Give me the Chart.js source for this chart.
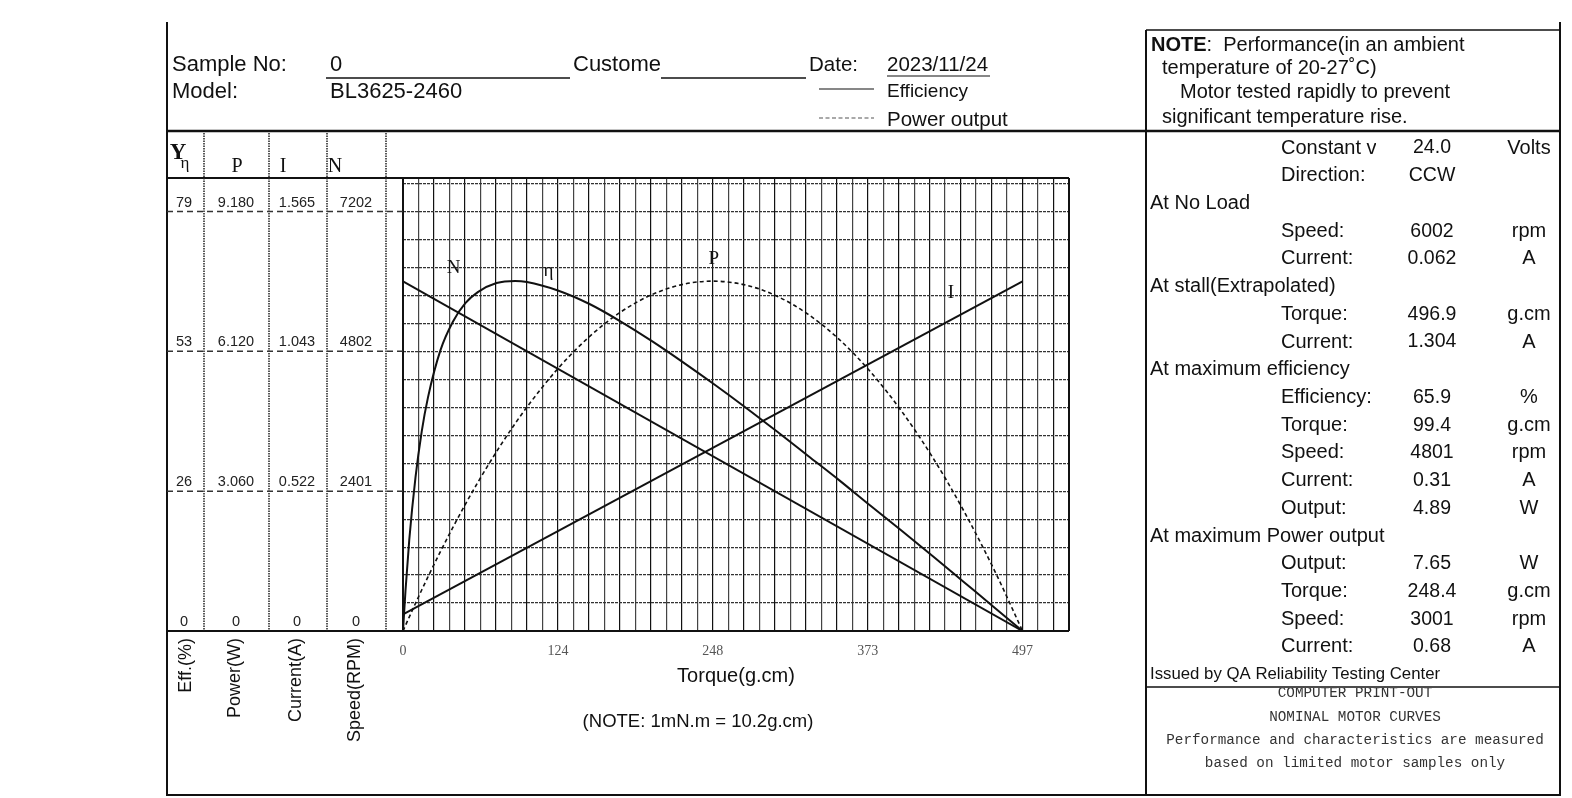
<!DOCTYPE html>
<html>
<head>
<meta charset="utf-8">
<script src="https://cdn.jsdelivr.net/npm/chart.js@4.4.1/dist/chart.umd.min.js"></script>
<style>
html, body { margin: 0; padding: 0; background: #fff; }
canvas { display: block; }
</style>
</head>
<body>
<canvas id="chartMotor" width="1572" height="798"></canvas>
<script>
// torque points (g.cm)
const torque = [0, 2, 5, 10, 15, 20, 30, 40, 50, 60, 75, 90, 99.4, 124.2, 150, 175, 200, 225, 248.4, 275, 300, 325, 350, 375, 400, 425, 450, 475, 496.9]
const efficiency = [0, 7.6, 17.1, 28.9, 37.6, 44.0, 52.9, 58.3, 61.8, 63.9, 65.6, 66.0, 65.8, 64.2, 61.6, 58.3, 54.6, 50.6, 46.7, 42.1, 37.6, 33.0, 28.4, 23.6, 18.9, 14.1, 9.2, 4.3, 0]
const power = [0, 0.123, 0.305, 0.604, 0.897, 1.183, 1.737, 2.267, 2.772, 3.252, 3.925, 4.543, 4.901, 5.742, 6.455, 6.988, 7.366, 7.589, 7.657, 7.570, 7.327, 6.930, 6.378, 5.670, 4.808, 3.791, 2.618, 1.290, 0]
// speed and current are straight lines, no load -> stall
const lineTorque = [0, 496.9]
const speed = [6002, 0]
const current = [0.062, 1.304]

// left columns: top dashed line value of each scale and the printed labels
const fullScale = [79.08, 9.18, 1.5648, 7202.4]
const effTicks = ['0', '26', '53', '79']
const powerTicks = ['0', '3.060', '6.120', '9.180']
const currentTicks = ['0', '0.522', '1.043', '1.565']
const speedTicks = ['0', '2401', '4802', '7202']
const torqueTicks = ['0', '124', '248', '373', '497']
const stallTorque = 496.9

const specRows = [
    ['', 'Constant voltage:', '24.0', 'Volts'],
    ['', 'Direction:', 'CCW', ''],
    ['At No Load', '', '', ''],
    ['', 'Speed:', '6002', 'rpm'],
    ['', 'Current:', '0.062', 'A'],
    ['At stall(Extrapolated)', '', '', ''],
    ['', 'Torque:', '496.9', 'g.cm'],
    ['', 'Current:', '1.304', 'A'],
    ['At maximum efficiency', '', '', ''],
    ['', 'Efficiency:', '65.9', '%'],
    ['', 'Torque:', '99.4', 'g.cm'],
    ['', 'Speed:', '4801', 'rpm'],
    ['', 'Current:', '0.31', 'A'],
    ['', 'Output:', '4.89', 'W'],
    ['At maximum Power output', '', '', ''],
    ['', 'Output:', '7.65', 'W'],
    ['', 'Torque:', '248.4', 'g.cm'],
    ['', 'Speed:', '3001', 'rpm'],
    ['', 'Current:', '0.68', 'A']
]

const SANS = '"Liberation Sans", Arial, sans-serif'
const SERIF = '"Liberation Serif", "Times New Roman", serif'
const MONO = '"Liberation Mono", monospace'
const xStep = stallTorque / 40
const yStep = fullScale[0] / 15

function seg(ctx, x1, y1, x2, y2) {
    ctx.beginPath()
    ctx.moveTo(x1, y1)
    ctx.lineTo(x2, y2)
    ctx.stroke()
}
function txt(ctx, s, x, y, font, align, color) {
    ctx.font = font
    ctx.textAlign = align || 'left'
    ctx.textBaseline = 'middle'
    ctx.fillStyle = color || '#111'
    ctx.fillText(s, x, y)
}

const sheet = {
    id: 'sheet',
    beforeDraw(chart) {
        const ctx = chart.ctx
        ctx.save()
        ctx.fillStyle = '#fff'
        ctx.fillRect(0, 0, chart.width, chart.height)
        ctx.restore()
    },
    afterDraw(chart) {
        const ctx = chart.ctx
        const a = chart.chartArea
        const sx = chart.scales.x
        const sy = chart.scales.y
        ctx.save()

        // outer frame
        ctx.strokeStyle = '#111'
        ctx.lineWidth = 2
        seg(ctx, 167, 22, 167, 796)
        seg(ctx, 167, 795, 1560, 795)
        seg(ctx, 1560, 22, 1560, 796)
        ctx.lineWidth = 2.5
        seg(ctx, 167, 131, 1560, 131)
        ctx.lineWidth = 1.5
        seg(ctx, 1146, 30, 1560, 30)
        ctx.lineWidth = 2
        seg(ctx, 1146, 30, 1146, 795)
        ctx.lineWidth = 1.5
        seg(ctx, 1146, 687, 1560, 687)

        // plot frame and table lines
        ctx.lineWidth = 2
        seg(ctx, 167, a.top, a.right, a.top)
        seg(ctx, 167, a.bottom, a.right, a.bottom)
        seg(ctx, a.left, a.top, a.left, a.bottom)
        seg(ctx, a.right, a.top, a.right, a.bottom)

        // dotted column dividers
        ctx.lineWidth = 1.5
        ctx.strokeStyle = '#222'
        ctx.setLineDash([1.5, 1])
        ;[204, 269, 327, 386].forEach(x => seg(ctx, x, 133, x, a.bottom))
        // dashed level lines
        ctx.setLineDash([6, 4])
        ctx.strokeStyle = '#333'
        for (let k = 1; k <= 3; k++) {
            const y = sy.getPixelForValue(fullScale[0] * k / 3)
            seg(ctx, 167, y, a.left, y)
        }
        ctx.setLineDash([])

        // column tick labels
        const cols = [184, 236, 297, 356]
        const ids = ['y', 'yP', 'yI', 'yN']
        const labels = [effTicks, powerTicks, currentTicks, speedTicks]
        cols.forEach((cx, c) => {
            for (let k = 0; k <= 3; k++) {
                const y = chart.scales[ids[c]].getPixelForValue(fullScale[c] * k / 3)
                txt(ctx, labels[c][k], cx, y - 9, '14.5px ' + SANS, 'center', '#222')
            }
        })
        // column heads
        txt(ctx, 'Y', 178, 153, 'bold 23px ' + SERIF, 'center')
        txt(ctx, 'η', 185, 164, '17px ' + SERIF, 'center')
        txt(ctx, 'P', 237, 167, '20px ' + SERIF, 'center')
        txt(ctx, 'I', 283, 167, '20px ' + SERIF, 'center')
        txt(ctx, 'N', 335, 167, '20px ' + SERIF, 'center')
        // rotated units
        ;[['Eff.(%)', 186], ['Power(W)', 235], ['Current(A)', 296], ['Speed(RPM)', 355]].forEach(([s, x]) => {
            ctx.save()
            ctx.translate(x, 638)
            ctx.rotate(-Math.PI / 2)
            txt(ctx, s, 0, 0, '18px ' + SANS, 'right')
            ctx.restore()
        })

        // curve names
        const names = [['N', 40.5, 68.4], ['η', 116.6, 67.8], ['P', 249.3, 70.2], ['I', 439.5, 63.8]]
        names.forEach(([s, t, v]) => txt(ctx, s, sx.getPixelForValue(t), sy.getPixelForValue(v), '19px ' + SERIF, 'center'))

        txt(ctx, '(NOTE: 1mN.m = 10.2g.cm)', 698, 722, '18.5px ' + SANS, 'center')

        // header
        const hf = '22px ' + SANS
        txt(ctx, 'Sample No:', 172, 65, hf)
        txt(ctx, 'Model:', 172, 92, hf)
        txt(ctx, '0', 330, 65, hf)
        txt(ctx, 'BL3625-2460', 330, 92, hf)
        txt(ctx, 'Custome', 573, 65, hf)
        txt(ctx, 'Date:', 809, 65, '20.5px ' + SANS)
        txt(ctx, '2023/11/24', 887, 65, '20.5px ' + SANS)
        ctx.strokeStyle = '#111'
        ctx.lineWidth = 1.5
        seg(ctx, 326, 78, 570, 78)
        seg(ctx, 661, 78, 806, 78)
        ctx.lineWidth = 1.2
        seg(ctx, 887, 76, 990, 76)
        seg(ctx, 819, 89, 874, 89)
        ctx.strokeStyle = '#555'
        ctx.setLineDash([4, 2.5])
        seg(ctx, 819, 118, 874, 118)
        ctx.setLineDash([])
        txt(ctx, 'Efficiency', 887, 92, '19px ' + SANS)
        txt(ctx, 'Power output', 887, 120, '20.5px ' + SANS)

        // note box
        ctx.font = 'bold 20px ' + SANS
        const nw = ctx.measureText('NOTE').width
        txt(ctx, 'NOTE', 1151, 45, 'bold 20px ' + SANS)
        txt(ctx, ':  Performance(in an ambient', 1151 + nw, 45, '20px ' + SANS)
        txt(ctx, 'temperature of 20-27˚C)', 1162, 68, '20px ' + SANS)
        txt(ctx, 'Motor tested rapidly to prevent', 1180, 92, '20px ' + SANS)
        txt(ctx, 'significant temperature rise.', 1162, 117, '20px ' + SANS)

        // spec table
        specRows.forEach((r, i) => {
            const y = 148 + i * 27.72
            if (r[0]) txt(ctx, r[0], 1150, y, '20px ' + SANS)
            if (r[1]) {
                ctx.save()
                ctx.beginPath()
                ctx.rect(1270, y - 16, 106, 32)
                ctx.clip()
                txt(ctx, r[1], 1281, y, '20px ' + SANS)
                ctx.restore()
            }
            if (r[2]) txt(ctx, r[2], 1432, y, '19.5px ' + SANS, 'center')
            if (r[3]) txt(ctx, r[3], 1529, y, '20px ' + SANS, 'center')
        })
        txt(ctx, 'Issued by QA Reliability Testing Center', 1150, 674, '16.8px ' + SANS)

        ctx.save()
        ctx.beginPath()
        ctx.rect(1148, 688, 410, 100)
        ctx.clip()
        txt(ctx, 'COMPUTER PRINT-OUT', 1355, 693, '14.3px ' + MONO, 'center', '#333')
        ctx.restore()
        txt(ctx, 'NOMINAL MOTOR CURVES', 1355, 717, '14.3px ' + MONO, 'center', '#333')
        txt(ctx, 'Performance and characteristics are measured', 1355, 740, '14.3px ' + MONO, 'center', '#333')
        txt(ctx, 'based on limited motor samples only', 1355, 763, '14.3px ' + MONO, 'center', '#333')

        ctx.restore()
    }
}

const ctxMotor = document.getElementById('chartMotor').getContext('2d')
const chartMotor = new Chart(ctxMotor, {
    type: 'line',
    data: {
        datasets: [
            {
                label: 'Efficiency',
                data: torque.map((t, i) => ({ x: t, y: efficiency[i] })),
                yAxisID: 'y',
                borderColor: '#111',
                borderWidth: 2,
                cubicInterpolationMode: 'monotone'
            },
            {
                label: 'Power output',
                data: torque.map((t, i) => ({ x: t, y: power[i] })),
                yAxisID: 'yP',
                borderColor: '#111',
                borderWidth: 1.6,
                borderDash: [4, 3],
                cubicInterpolationMode: 'monotone'
            },
            {
                label: 'Speed',
                data: lineTorque.map((t, i) => ({ x: t, y: speed[i] })),
                yAxisID: 'yN',
                borderColor: '#111',
                borderWidth: 2
            },
            {
                label: 'Current',
                data: lineTorque.map((t, i) => ({ x: t, y: current[i] })),
                yAxisID: 'yI',
                borderColor: '#111',
                borderWidth: 2
            }
        ]
    },
    options: {
        responsive: false,
        animation: false,
        layout: { padding: { left: 403, top: 178, right: 503, bottom: 117 } },
        elements: { point: { radius: 0 } },
        plugins: { legend: { display: false }, tooltip: { enabled: false } },
        scales: {
            x: {
                type: 'linear',
                min: 0,
                max: xStep * 43,
                afterBuildTicks: s => { s.ticks = Array.from({ length: 44 }, (_, k) => ({ value: k * xStep })) },
                ticks: {
                    autoSkip: false,
                    maxRotation: 0,
                    padding: 13,
                    color: '#555',
                    font: { family: SERIF, size: 14, lineHeight: 1 },
                    callback: (v, i) => i % 10 === 0 ? torqueTicks[i / 10] : ''
                },
                grid: {
                    drawTicks: false,
                    color: c => c.index % 2 === 0 ? '#111' : '#444',
                    lineWidth: 1.2
                },
                border: { display: false },
                title: {
                    display: true,
                    text: 'Torque(g.cm)',
                    color: '#111',
                    font: { family: SANS, size: 20, lineHeight: 0.5 },
                    padding: { top: 0, bottom: 0 }
                }
            },
            y: {
                min: 0,
                max: fullScale[0] * 1.08,
                afterBuildTicks: s => { s.ticks = Array.from({ length: 17 }, (_, k) => ({ value: k * yStep })) },
                ticks: { display: false },
                grid: { drawTicks: false, color: '#333', lineWidth: 1.2 },
                border: { display: false, dash: [3, 1] }
            },
            yP: { display: false, min: 0, max: fullScale[1] * 1.08 },
            yI: { display: false, min: 0, max: fullScale[2] * 1.08 },
            yN: { display: false, min: 0, max: fullScale[3] * 1.08 }
        }
    },
    plugins: [sheet]
})
</script>
</body>
</html>
